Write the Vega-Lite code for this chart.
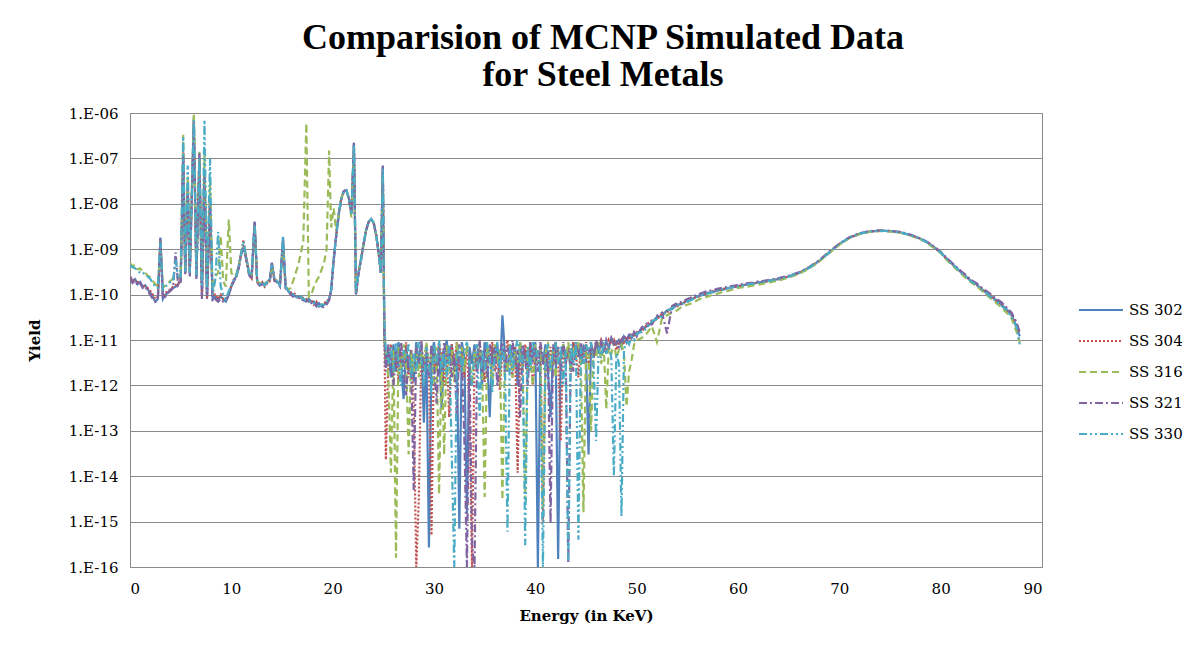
{
  "$schema": "https://vega.github.io/schema/vega-lite/v6.json",
  "autosize": {"type": "none"},
  "padding": {"left": 130, "top": 113, "right": 157, "bottom": 78},
  "width": 912,
  "height": 454,
  "background": "white",
  "title": {
    "text": ["Comparision of MCNP Simulated Data", "for Steel Metals"],
    "font": "Liberation Serif",
    "fontSize": 36,
    "fontWeight": "bold",
    "lineHeight": 37,
    "color": "black",
    "anchor": "middle",
    "baseline": "bottom",
    "offset": 18,
    "dx": 17,
    "dy": 42
  },
  "data": {
    "values": [
      {"e":0,"SS 302":2.5e-10,"SS 304":2.4e-10,"SS 316":5e-10,"SS 321":2.3e-10,"SS 330":4.5e-10},
      {"e":0.25,"SS 302":2e-10,"SS 304":2.2e-10,"SS 316":4.2e-10,"SS 321":1.8e-10,"SS 330":4e-10},
      {"e":0.5,"SS 302":2.2e-10,"SS 304":2e-10,"SS 316":4.5e-10,"SS 321":2e-10,"SS 330":3.8e-10},
      {"e":0.75,"SS 302":1.7e-10,"SS 304":1.9e-10,"SS 316":3.6e-10,"SS 321":1.6e-10,"SS 330":3.4e-10},
      {"e":1,"SS 302":1.9e-10,"SS 304":1.7e-10,"SS 316":3.8e-10,"SS 321":1.8e-10,"SS 330":3e-10},
      {"e":1.25,"SS 302":1.5e-10,"SS 304":1.6e-10,"SS 316":3.2e-10,"SS 321":1.4e-10,"SS 330":3.1e-10},
      {"e":1.5,"SS 302":1.6e-10,"SS 304":1.5e-10,"SS 316":3e-10,"SS 321":1.5e-10,"SS 330":2.7e-10},
      {"e":1.75,"SS 302":1.3e-10,"SS 304":1.4e-10,"SS 316":2.6e-10,"SS 321":1.2e-10,"SS 330":2.5e-10},
      {"e":2,"SS 302":1.1e-10,"SS 304":1.2e-10,"SS 316":2.4e-10,"SS 321":1e-10,"SS 330":2.2e-10},
      {"e":2.25,"SS 302":9e-11,"SS 304":1e-10,"SS 316":2e-10,"SS 321":8e-11,"SS 330":1.8e-10},
      {"e":2.5,"SS 302":7e-11,"SS 304":8e-11,"SS 316":1.7e-10,"SS 321":7e-11,"SS 330":1.5e-10},
      {"e":2.75,"SS 302":8e-11,"SS 304":9e-11,"SS 316":1.5e-10,"SS 321":7.5e-11,"SS 330":1.4e-10},
      {"e":3,"SS 302":1.8e-9,"SS 304":1.6e-9,"SS 316":1.2e-9,"SS 321":1.7e-9,"SS 330":1.5e-9},
      {"e":3.25,"SS 302":8e-11,"SS 304":9e-11,"SS 316":1.4e-10,"SS 321":8e-11,"SS 330":1.3e-10},
      {"e":3.5,"SS 302":1e-10,"SS 304":1.1e-10,"SS 316":1.6e-10,"SS 321":9e-11,"SS 330":1.5e-10},
      {"e":3.75,"SS 302":1.1e-10,"SS 304":1.2e-10,"SS 316":1.8e-10,"SS 321":1.1e-10,"SS 330":1.7e-10},
      {"e":4,"SS 302":1.3e-10,"SS 304":1.3e-10,"SS 316":2e-10,"SS 321":1.2e-10,"SS 330":1.9e-10},
      {"e":4.25,"SS 302":1.4e-10,"SS 304":1.5e-10,"SS 316":2.3e-10,"SS 321":1.4e-10,"SS 330":2e-10},
      {"e":4.5,"SS 302":1.5e-10,"SS 304":1.6e-10,"SS 316":2.6e-10,"SS 321":8.5e-10,"SS 330":6e-10},
      {"e":4.75,"SS 302":1.7e-10,"SS 304":1.8e-10,"SS 316":2.4e-10,"SS 321":1.6e-10,"SS 330":2.3e-10},
      {"e":5,"SS 302":2e-10,"SS 304":2e-10,"SS 316":2.6e-10,"SS 321":1.9e-10,"SS 330":2.5e-10},
      {"e":5.25,"SS 302":1e-7,"SS 304":1.5e-7,"SS 316":3.3e-7,"SS 321":1.2e-7,"SS 330":3e-7},
      {"e":5.45,"SS 302":3e-10,"SS 304":3e-10,"SS 316":3.5e-10,"SS 321":2.8e-10,"SS 330":3.2e-10},
      {"e":5.7,"SS 302":2e-8,"SS 304":3e-8,"SS 316":4e-8,"SS 321":2e-8,"SS 330":7e-8},
      {"e":5.9,"SS 302":3e-10,"SS 304":2.8e-10,"SS 316":3.5e-10,"SS 321":2.5e-10,"SS 330":3e-10},
      {"e":6.3,"SS 302":8e-7,"SS 304":7e-7,"SS 316":1e-6,"SS 321":6e-7,"SS 330":7e-7},
      {"e":6.55,"SS 302":2.5e-10,"SS 304":2.4e-10,"SS 316":3e-10,"SS 321":2.2e-10,"SS 330":2.6e-10},
      {"e":6.85,"SS 302":1e-7,"SS 304":1.2e-7,"SS 316":1.4e-7,"SS 321":1.3e-7,"SS 330":1e-7},
      {"e":7.1,"SS 302":1e-10,"SS 304":9e-11,"SS 316":2e-10,"SS 321":8e-11,"SS 330":1.5e-10},
      {"e":7.35,"SS 302":5e-8,"SS 304":5e-8,"SS 316":1.2e-7,"SS 321":4e-8,"SS 330":7e-7},
      {"e":7.6,"SS 302":9e-11,"SS 304":8e-11,"SS 316":1.5e-10,"SS 321":8e-11,"SS 330":1.2e-10},
      {"e":7.9,"SS 302":1e-8,"SS 304":1.2e-8,"SS 316":3e-8,"SS 321":1e-8,"SS 330":1e-7},
      {"e":8.15,"SS 302":8e-11,"SS 304":9e-11,"SS 316":1e-10,"SS 321":7e-11,"SS 330":1e-10},
      {"e":8.4,"SS 302":9e-11,"SS 304":1e-10,"SS 316":2.5e-10,"SS 321":8e-11,"SS 330":2e-10},
      {"e":8.7,"SS 302":8e-11,"SS 304":8e-11,"SS 316":3e-10,"SS 321":7e-11,"SS 330":2.4e-9},
      {"e":8.95,"SS 302":9e-11,"SS 304":1e-10,"SS 316":2e-9,"SS 321":8e-11,"SS 330":1.5e-10},
      {"e":9.2,"SS 302":8e-11,"SS 304":8e-11,"SS 316":2e-10,"SS 321":7e-11,"SS 330":1e-10},
      {"e":9.45,"SS 302":7e-11,"SS 304":8e-11,"SS 316":1.5e-10,"SS 321":7e-11,"SS 330":8e-11},
      {"e":9.75,"SS 302":1e-10,"SS 304":1e-10,"SS 316":4.5e-9,"SS 321":1e-10,"SS 330":1.2e-10},
      {"e":10,"SS 302":1.5e-10,"SS 304":1.6e-10,"SS 316":3e-10,"SS 321":1.5e-10,"SS 330":1.6e-10},
      {"e":10.25,"SS 302":2e-10,"SS 304":2.2e-10,"SS 316":2.5e-10,"SS 321":2e-10,"SS 330":2.1e-10},
      {"e":10.5,"SS 302":2.6e-10,"SS 304":2.5e-10,"SS 316":2.8e-10,"SS 321":2.4e-10,"SS 330":2.6e-10},
      {"e":10.75,"SS 302":4.5e-10,"SS 304":4.2e-10,"SS 316":4.5e-10,"SS 321":4e-10,"SS 330":4.5e-10},
      {"e":11,"SS 302":9e-10,"SS 304":8.5e-10,"SS 316":9e-10,"SS 321":8e-10,"SS 330":8.5e-10},
      {"e":11.2,"SS 302":1.1e-9,"SS 304":1.6e-9,"SS 316":1.2e-9,"SS 321":1.1e-9,"SS 330":1.5e-9},
      {"e":11.5,"SS 302":6e-10,"SS 304":5.5e-10,"SS 316":6e-10,"SS 321":5.5e-10,"SS 330":6e-10},
      {"e":11.75,"SS 302":3e-10,"SS 304":2.8e-10,"SS 316":3e-10,"SS 321":2.7e-10,"SS 330":3e-10},
      {"e":12,"SS 302":2.5e-10,"SS 304":2.3e-10,"SS 316":2.4e-10,"SS 321":2.2e-10,"SS 330":2.6e-10},
      {"e":12.3,"SS 302":4e-9,"SS 304":3.5e-9,"SS 316":3e-9,"SS 321":4e-9,"SS 330":3.5e-9},
      {"e":12.55,"SS 302":2e-10,"SS 304":1.8e-10,"SS 316":2e-10,"SS 321":1.8e-10,"SS 330":2e-10},
      {"e":12.8,"SS 302":1.6e-10,"SS 304":1.7e-10,"SS 316":1.8e-10,"SS 321":1.6e-10,"SS 330":1.7e-10},
      {"e":13.05,"SS 302":1.8e-10,"SS 304":1.9e-10,"SS 316":2e-10,"SS 321":1.7e-10,"SS 330":1.9e-10},
      {"e":13.3,"SS 302":1.6e-10,"SS 304":1.5e-10,"SS 316":1.7e-10,"SS 321":1.6e-10,"SS 330":1.6e-10},
      {"e":13.55,"SS 302":1.9e-10,"SS 304":1.8e-10,"SS 316":1.9e-10,"SS 321":1.8e-10,"SS 330":2e-10},
      {"e":13.8,"SS 302":2.2e-10,"SS 304":2e-10,"SS 316":2.1e-10,"SS 321":2e-10,"SS 330":2.2e-10},
      {"e":14,"SS 302":5e-10,"SS 304":4.5e-10,"SS 316":4e-10,"SS 321":5e-10,"SS 330":4.5e-10},
      {"e":14.25,"SS 302":2.2e-10,"SS 304":2.1e-10,"SS 316":2.2e-10,"SS 321":2e-10,"SS 330":2.3e-10},
      {"e":14.5,"SS 302":2e-10,"SS 304":1.9e-10,"SS 316":2e-10,"SS 321":1.9e-10,"SS 330":2e-10},
      {"e":14.8,"SS 302":1.6e-10,"SS 304":1.7e-10,"SS 316":1.7e-10,"SS 321":1.5e-10,"SS 330":1.6e-10},
      {"e":15.1,"SS 302":1.8e-9,"SS 304":1.5e-9,"SS 316":1.2e-9,"SS 321":1.6e-9,"SS 330":1.9e-9},
      {"e":15.35,"SS 302":1.5e-10,"SS 304":1.4e-10,"SS 316":1.5e-10,"SS 321":1.4e-10,"SS 330":1.5e-10},
      {"e":15.6,"SS 302":1.2e-10,"SS 304":1.3e-10,"SS 316":1.3e-10,"SS 321":1.2e-10,"SS 330":1.2e-10},
      {"e":15.85,"SS 302":1.1e-10,"SS 304":1.1e-10,"SS 316":1.4e-10,"SS 321":1e-10,"SS 330":1.1e-10},
      {"e":16.1,"SS 302":1e-10,"SS 304":1.1e-10,"SS 316":2e-10,"SS 321":9e-11,"SS 330":1e-10},
      {"e":16.35,"SS 302":9e-11,"SS 304":1e-10,"SS 316":3e-10,"SS 321":9e-11,"SS 330":1e-10},
      {"e":16.6,"SS 302":9e-11,"SS 304":8e-11,"SS 316":4.5e-10,"SS 321":8.5e-11,"SS 330":8e-11},
      {"e":16.85,"SS 302":8.5e-11,"SS 304":9e-11,"SS 316":8e-10,"SS 321":8e-11,"SS 330":9e-11},
      {"e":17.1,"SS 302":8e-11,"SS 304":8.5e-11,"SS 316":1.5e-9,"SS 321":7.5e-11,"SS 330":8e-11},
      {"e":17.4,"SS 302":7.5e-11,"SS 304":8e-11,"SS 316":6e-7,"SS 321":7e-11,"SS 330":7.5e-11},
      {"e":17.65,"SS 302":8e-11,"SS 304":7e-11,"SS 316":9e-11,"SS 321":7.5e-11,"SS 330":7e-11},
      {"e":17.9,"SS 302":7e-11,"SS 304":7.5e-11,"SS 316":1e-10,"SS 321":6.5e-11,"SS 330":7e-11},
      {"e":18.15,"SS 302":7e-11,"SS 304":6e-11,"SS 316":1.5e-10,"SS 321":6.5e-11,"SS 330":6.5e-11},
      {"e":18.4,"SS 302":6e-11,"SS 304":7e-11,"SS 316":2e-10,"SS 321":5.5e-11,"SS 330":6e-11},
      {"e":18.65,"SS 302":6.5e-11,"SS 304":5.5e-11,"SS 316":2.5e-10,"SS 321":6e-11,"SS 330":5.5e-11},
      {"e":18.9,"SS 302":5.5e-11,"SS 304":6e-11,"SS 316":3.5e-10,"SS 321":5e-11,"SS 330":6e-11},
      {"e":19.15,"SS 302":6e-11,"SS 304":6.5e-11,"SS 316":5e-10,"SS 321":5.5e-11,"SS 330":6e-11},
      {"e":19.4,"SS 302":6.5e-11,"SS 304":7e-11,"SS 316":1e-9,"SS 321":6e-11,"SS 330":7e-11},
      {"e":19.65,"SS 302":8e-11,"SS 304":8e-11,"SS 316":1.5e-7,"SS 321":7.5e-11,"SS 330":8e-11},
      {"e":19.85,"SS 302":1.2e-10,"SS 304":1.3e-10,"SS 316":3e-9,"SS 321":1.2e-10,"SS 330":1.3e-10},
      {"e":20.1,"SS 302":6e-10,"SS 304":6e-10,"SS 316":8e-9,"SS 321":5.5e-10,"SS 330":6e-10},
      {"e":20.35,"SS 302":2e-9,"SS 304":2e-9,"SS 316":2.5e-9,"SS 321":2e-9,"SS 330":2e-9},
      {"e":20.6,"SS 302":6e-9,"SS 304":6e-9,"SS 316":6e-9,"SS 321":5.5e-9,"SS 330":6e-9},
      {"e":20.85,"SS 302":1.3e-8,"SS 304":1.3e-8,"SS 316":1.3e-8,"SS 321":1.2e-8,"SS 330":1.3e-8},
      {"e":21.1,"SS 302":1.9e-8,"SS 304":1.9e-8,"SS 316":1.9e-8,"SS 321":1.9e-8,"SS 330":1.9e-8},
      {"e":21.35,"SS 302":2e-8,"SS 304":2e-8,"SS 316":2e-8,"SS 321":2e-8,"SS 330":2e-8},
      {"e":21.6,"SS 302":1.3e-8,"SS 304":1.3e-8,"SS 316":1.3e-8,"SS 321":1.3e-8,"SS 330":1.3e-8},
      {"e":21.85,"SS 302":6e-9,"SS 304":6e-9,"SS 316":5e-9,"SS 321":6e-9,"SS 330":6e-9},
      {"e":22.1,"SS 302":2.2e-7,"SS 304":2e-7,"SS 316":1.5e-7,"SS 321":2.2e-7,"SS 330":2e-7},
      {"e":22.3,"SS 302":1e-10,"SS 304":1.1e-10,"SS 316":1e-10,"SS 321":1e-10,"SS 330":1.1e-10},
      {"e":22.55,"SS 302":3e-10,"SS 304":3e-10,"SS 316":3e-10,"SS 321":2.8e-10,"SS 330":3e-10},
      {"e":22.8,"SS 302":6e-10,"SS 304":6e-10,"SS 316":6e-10,"SS 321":6e-10,"SS 330":6e-10},
      {"e":23.05,"SS 302":1.3e-9,"SS 304":1.3e-9,"SS 316":1.3e-9,"SS 321":1.3e-9,"SS 330":1.3e-9},
      {"e":23.3,"SS 302":2.6e-9,"SS 304":2.6e-9,"SS 316":2.6e-9,"SS 321":2.6e-9,"SS 330":2.6e-9},
      {"e":23.55,"SS 302":4e-9,"SS 304":4e-9,"SS 316":4e-9,"SS 321":4e-9,"SS 330":4e-9},
      {"e":23.8,"SS 302":4.6e-9,"SS 304":4.6e-9,"SS 316":4.6e-9,"SS 321":4.6e-9,"SS 330":4.6e-9},
      {"e":24.05,"SS 302":3.8e-9,"SS 304":3.8e-9,"SS 316":3.8e-9,"SS 321":3.8e-9,"SS 330":3.8e-9},
      {"e":24.3,"SS 302":2e-9,"SS 304":2e-9,"SS 316":2e-9,"SS 321":2e-9,"SS 330":2e-9},
      {"e":24.55,"SS 302":8e-10,"SS 304":8e-10,"SS 316":8e-10,"SS 321":8e-10,"SS 330":8e-10},
      {"e":24.75,"SS 302":3e-10,"SS 304":3e-10,"SS 316":3e-10,"SS 321":3e-10,"SS 330":3e-10},
      {"e":24.95,"SS 302":7e-8,"SS 304":6e-8,"SS 316":5e-8,"SS 321":7e-8,"SS 330":6e-8},
      {"e":25.1,"SS 302":1.2e-11,"SS 304":1.5e-11,"SS 316":1.1e-11,"SS 321":1.3e-11,"SS 330":2.5e-11},
      {"e":25.25,"SS 302":3e-12,"SS 304":2.3e-14,"SS 316":5e-12,"SS 321":2e-12,"SS 330":6e-12},
      {"e":25.5,"SS 302":6e-12,"SS 304":4e-12,"SS 316":1.5e-12,"SS 321":8e-12,"SS 330":3e-12},
      {"e":25.75,"SS 302":1.5e-12,"SS 304":8e-12,"SS 316":1.2e-14,"SS 321":3e-12,"SS 330":7e-12},
      {"e":26,"SS 302":8e-12,"SS 304":2e-12,"SS 316":6e-12,"SS 321":1e-12,"SS 330":2e-12},
      {"e":26.25,"SS 302":2e-12,"SS 304":5e-12,"SS 316":1.6e-16,"SS 321":6e-12,"SS 330":9e-12},
      {"e":26.5,"SS 302":9e-12,"SS 304":1.2e-12,"SS 316":7e-12,"SS 321":2.5e-12,"SS 330":3e-12},
      {"e":26.75,"SS 302":3e-12,"SS 304":7e-12,"SS 316":2e-12,"SS 321":9e-12,"SS 330":1e-12},
      {"e":27,"SS 302":5e-13,"SS 304":3e-12,"SS 316":8e-12,"SS 321":2e-12,"SS 330":6e-12},
      {"e":27.25,"SS 302":7e-12,"SS 304":9e-12,"SS 316":3e-12,"SS 321":6e-13,"SS 330":4e-12},
      {"e":27.5,"SS 302":2e-12,"SS 304":1.5e-12,"SS 316":3e-14,"SS 321":5e-12,"SS 330":8e-12},
      {"e":27.75,"SS 302":6e-12,"SS 304":6e-12,"SS 316":5e-12,"SS 321":2e-12,"SS 330":1.5e-12},
      {"e":28,"SS 302":1.2e-12,"SS 304":3e-13,"SS 316":2e-12,"SS 321":5e-15,"SS 330":5e-12},
      {"e":28.25,"SS 302":9e-12,"SS 304":1e-16,"SS 316":7e-12,"SS 321":7e-12,"SS 330":2e-12},
      {"e":28.5,"SS 302":3e-12,"SS 304":3e-15,"SS 316":1.5e-12,"SS 321":3e-12,"SS 330":9e-12},
      {"e":28.75,"SS 302":8e-12,"SS 304":6e-12,"SS 316":6e-12,"SS 321":1e-11,"SS 330":4e-12},
      {"e":29,"SS 302":1.5e-13,"SS 304":2e-12,"SS 316":3e-12,"SS 321":2e-12,"SS 330":1e-12},
      {"e":29.25,"SS 302":6e-12,"SS 304":8e-12,"SS 316":9e-12,"SS 321":5e-12,"SS 330":7e-12},
      {"e":29.5,"SS 302":2.7e-16,"SS 304":3e-12,"SS 316":2e-12,"SS 321":1.5e-12,"SS 330":3e-12},
      {"e":29.75,"SS 302":4e-12,"SS 304":5e-16,"SS 316":6e-12,"SS 321":8e-12,"SS 330":6e-13},
      {"e":30,"SS 302":9e-12,"SS 304":7e-12,"SS 316":1e-12,"SS 321":3e-12,"SS 330":8e-12},
      {"e":30.25,"SS 302":2e-12,"SS 304":2e-12,"SS 316":7e-12,"SS 321":4e-13,"SS 330":3e-12},
      {"e":30.5,"SS 302":7e-12,"SS 304":9e-12,"SS 316":4e-15,"SS 321":6e-12,"SS 330":1e-11},
      {"e":30.75,"SS 302":3e-13,"SS 304":4e-12,"SS 316":5e-12,"SS 321":2e-12,"SS 330":2e-12},
      {"e":31,"SS 302":5e-12,"SS 304":1e-12,"SS 316":3e-14,"SS 321":9e-12,"SS 330":6e-12},
      {"e":31.25,"SS 302":1e-11,"SS 304":6e-12,"SS 316":8e-12,"SS 321":3e-12,"SS 330":1.5e-12},
      {"e":31.5,"SS 302":3e-12,"SS 304":2e-13,"SS 316":2e-12,"SS 321":7e-12,"SS 330":8e-12},
      {"e":31.75,"SS 302":8e-12,"SS 304":8e-12,"SS 316":6e-12,"SS 321":1.5e-12,"SS 330":3e-14},
      {"e":32,"SS 302":2e-12,"SS 304":3e-12,"SS 316":1.2e-12,"SS 321":5e-12,"SS 330":1e-16},
      {"e":32.25,"SS 302":6e-12,"SS 304":9e-12,"SS 316":9e-12,"SS 321":2e-13,"SS 330":4e-12},
      {"e":32.5,"SS 302":7e-16,"SS 304":2e-12,"SS 316":3e-12,"SS 321":8e-12,"SS 330":7e-12},
      {"e":32.75,"SS 302":9e-12,"SS 304":5e-12,"SS 316":7e-12,"SS 321":3e-12,"SS 330":2e-12},
      {"e":33,"SS 302":4e-12,"SS 304":1.5e-12,"SS 316":2e-12,"SS 321":6e-14,"SS 330":6e-12},
      {"e":33.25,"SS 302":1.5e-15,"SS 304":7e-12,"SS 316":8e-12,"SS 321":1e-16,"SS 330":9e-12},
      {"e":33.5,"SS 302":7e-12,"SS 304":3e-13,"SS 316":4e-12,"SS 321":5e-12,"SS 330":3e-12},
      {"e":33.75,"SS 302":3e-12,"SS 304":1e-16,"SS 316":1e-12,"SS 321":3e-16,"SS 330":1e-12},
      {"e":34,"SS 302":8e-12,"SS 304":6e-12,"SS 316":6e-12,"SS 321":1e-16,"SS 330":5e-12},
      {"e":34.25,"SS 302":2e-12,"SS 304":2e-12,"SS 316":3e-12,"SS 321":4e-12,"SS 330":8e-12},
      {"e":34.5,"SS 302":6e-12,"SS 304":8e-12,"SS 316":9e-12,"SS 321":1e-11,"SS 330":2e-13},
      {"e":34.75,"SS 302":1e-12,"SS 304":4e-12,"SS 316":2e-12,"SS 321":2e-12,"SS 330":6e-12},
      {"e":35,"SS 302":9e-12,"SS 304":1.2e-12,"SS 316":3.5e-15,"SS 321":6e-12,"SS 330":2e-12},
      {"e":35.25,"SS 302":4e-12,"SS 304":7e-12,"SS 316":7e-12,"SS 321":1.5e-12,"SS 330":9e-12},
      {"e":35.5,"SS 302":2e-13,"SS 304":3e-12,"SS 316":4e-12,"SS 321":8e-12,"SS 330":4e-12},
      {"e":35.75,"SS 302":7e-12,"SS 304":9e-12,"SS 316":1e-12,"SS 321":3e-12,"SS 330":7e-13},
      {"e":36,"SS 302":3e-12,"SS 304":2e-12,"SS 316":8e-12,"SS 321":7e-12,"SS 330":5e-12},
      {"e":36.25,"SS 302":8e-12,"SS 304":5e-12,"SS 316":3e-12,"SS 321":1e-12,"SS 330":9e-12},
      {"e":36.5,"SS 302":1.5e-12,"SS 304":8e-13,"SS 316":6e-12,"SS 321":5e-12,"SS 330":2e-12},
      {"e":36.75,"SS 302":3.5e-11,"SS 304":6e-12,"SS 316":3e-15,"SS 321":9e-12,"SS 330":7e-12},
      {"e":37,"SS 302":5e-12,"SS 304":3e-12,"SS 316":5e-12,"SS 321":2e-12,"SS 330":3e-12},
      {"e":37.25,"SS 302":2e-12,"SS 304":1e-11,"SS 316":2e-12,"SS 321":7e-12,"SS 330":6e-16},
      {"e":37.5,"SS 302":8e-12,"SS 304":4e-12,"SS 316":8e-12,"SS 321":4e-12,"SS 330":8e-12},
      {"e":37.75,"SS 302":4e-12,"SS 304":1.5e-12,"SS 316":1.5e-12,"SS 321":1e-11,"SS 330":2e-12},
      {"e":38,"SS 302":7e-12,"SS 304":7e-12,"SS 316":6e-12,"SS 321":3e-12,"SS 330":6e-12},
      {"e":38.25,"SS 302":1e-12,"SS 304":1.2e-14,"SS 316":3e-12,"SS 321":6e-12,"SS 330":1e-11},
      {"e":38.5,"SS 302":9e-12,"SS 304":5e-12,"SS 316":9e-12,"SS 321":2e-13,"SS 330":3e-12},
      {"e":38.75,"SS 302":3e-12,"SS 304":2e-12,"SS 316":2e-12,"SS 321":8e-12,"SS 330":5e-12},
      {"e":39,"SS 302":6e-12,"SS 304":8e-12,"SS 316":3e-15,"SS 321":4e-12,"SS 330":3e-16},
      {"e":39.25,"SS 302":2e-12,"SS 304":3e-12,"SS 316":7e-12,"SS 321":1e-12,"SS 330":7e-12},
      {"e":39.5,"SS 302":8e-12,"SS 304":9e-12,"SS 316":4e-12,"SS 321":9e-12,"SS 330":2e-12},
      {"e":39.75,"SS 302":5e-12,"SS 304":1e-12,"SS 316":1e-12,"SS 321":3e-12,"SS 330":9e-12},
      {"e":40,"SS 302":9e-12,"SS 304":6e-12,"SS 316":8e-12,"SS 321":7e-12,"SS 330":4e-12},
      {"e":40.25,"SS 302":1e-16,"SS 304":4e-12,"SS 316":3e-12,"SS 321":2e-12,"SS 330":6e-12},
      {"e":40.5,"SS 302":7e-12,"SS 304":8e-12,"SS 316":6e-12,"SS 321":9e-12,"SS 330":1.5e-12},
      {"e":40.75,"SS 302":3e-12,"SS 304":1e-15,"SS 316":2e-15,"SS 321":4e-12,"SS 330":1e-16},
      {"e":41,"SS 302":8e-12,"SS 304":5e-12,"SS 316":5e-12,"SS 321":1.5e-12,"SS 330":5e-12},
      {"e":41.25,"SS 302":2e-12,"SS 304":2e-12,"SS 316":9e-12,"SS 321":6e-12,"SS 330":8e-12},
      {"e":41.5,"SS 302":2e-13,"SS 304":7e-12,"SS 316":2e-12,"SS 321":9e-16,"SS 330":2e-12},
      {"e":41.75,"SS 302":6e-12,"SS 304":3e-12,"SS 316":7e-12,"SS 321":8e-12,"SS 330":6e-12},
      {"e":42,"SS 302":9e-12,"SS 304":9e-12,"SS 316":1.5e-12,"SS 321":3e-12,"SS 330":9e-12},
      {"e":42.25,"SS 302":1.5e-16,"SS 304":4e-12,"SS 316":6e-12,"SS 321":7e-12,"SS 330":3e-12},
      {"e":42.5,"SS 302":5e-12,"SS 304":6e-14,"SS 316":3e-12,"SS 321":2e-12,"SS 330":7e-12},
      {"e":42.75,"SS 302":8e-12,"SS 304":8e-12,"SS 316":8e-12,"SS 321":9e-12,"SS 330":1e-12},
      {"e":43,"SS 302":3e-12,"SS 304":3e-12,"SS 316":4e-12,"SS 321":4e-12,"SS 330":6e-12},
      {"e":43.25,"SS 302":7e-12,"SS 304":7e-12,"SS 316":9e-12,"SS 321":1.2e-16,"SS 330":1.3e-16},
      {"e":43.5,"SS 302":2e-12,"SS 304":2e-12,"SS 316":2e-12,"SS 321":6e-12,"SS 330":8e-12},
      {"e":43.75,"SS 302":9e-12,"SS 304":9e-12,"SS 316":7e-12,"SS 321":2e-12,"SS 330":3e-12},
      {"e":44,"SS 302":4e-12,"SS 304":5e-12,"SS 316":4e-12,"SS 321":8e-12,"SS 330":9e-12},
      {"e":44.25,"SS 302":8e-12,"SS 304":1.5e-12,"SS 316":9e-12,"SS 321":4e-12,"SS 330":4e-16},
      {"e":44.5,"SS 302":3e-12,"SS 304":8e-12,"SS 316":3e-12,"SS 321":9e-12,"SS 330":7e-12},
      {"e":44.75,"SS 302":7e-12,"SS 304":4e-12,"SS 316":1.6e-15,"SS 321":3e-12,"SS 330":3e-12},
      {"e":45,"SS 302":5e-12,"SS 304":9e-12,"SS 316":8e-12,"SS 321":8e-12,"SS 330":8e-12},
      {"e":45.25,"SS 302":3e-14,"SS 304":3e-12,"SS 316":5e-12,"SS 321":5e-12,"SS 330":5e-12},
      {"e":45.5,"SS 302":8e-12,"SS 304":7e-12,"SS 316":1e-13,"SS 321":9e-12,"SS 330":9e-12},
      {"e":45.75,"SS 302":4e-12,"SS 304":5e-12,"SS 316":7e-12,"SS 321":4e-12,"SS 330":3e-12},
      {"e":46,"SS 302":9e-12,"SS 304":9e-12,"SS 316":4e-12,"SS 321":1e-11,"SS 330":6e-14},
      {"e":46.25,"SS 302":5e-12,"SS 304":6e-12,"SS 316":9e-12,"SS 321":6e-12,"SS 330":7e-12},
      {"e":46.5,"SS 302":1e-11,"SS 304":1e-11,"SS 316":3e-12,"SS 321":9e-12,"SS 330":4e-12},
      {"e":46.75,"SS 302":6e-12,"SS 304":7e-12,"SS 316":8e-12,"SS 321":5e-12,"SS 330":9e-12},
      {"e":47,"SS 302":9e-12,"SS 304":5e-12,"SS 316":3e-13,"SS 321":1e-11,"SS 330":5e-12},
      {"e":47.25,"SS 302":7e-12,"SS 304":1e-11,"SS 316":7e-12,"SS 321":7e-12,"SS 330":8e-12},
      {"e":47.5,"SS 302":1.1e-11,"SS 304":8e-12,"SS 316":5e-12,"SS 321":1.1e-11,"SS 330":4e-12},
      {"e":47.75,"SS 302":8e-12,"SS 304":1e-11,"SS 316":9e-12,"SS 321":8e-12,"SS 330":1e-14},
      {"e":48,"SS 302":8e-12,"SS 304":6e-12,"SS 316":4e-12,"SS 321":9e-12,"SS 330":5e-12},
      {"e":48.25,"SS 302":1e-11,"SS 304":9e-12,"SS 316":6e-12,"SS 321":7e-12,"SS 330":3e-12},
      {"e":48.5,"SS 302":7e-12,"SS 304":1.1e-11,"SS 316":8e-12,"SS 321":1e-11,"SS 330":1.3e-15},
      {"e":48.75,"SS 302":1.2e-11,"SS 304":8e-12,"SS 316":5e-12,"SS 321":1.3e-11,"SS 330":6e-12},
      {"e":49,"SS 302":1e-11,"SS 304":1.2e-11,"SS 316":3.4e-13,"SS 321":9e-12,"SS 330":1e-11},
      {"e":49.25,"SS 302":1.3e-11,"SS 304":1e-11,"SS 316":2e-12,"SS 321":1.4e-11,"SS 330":8e-12},
      {"e":49.5,"SS 302":1.1e-11,"SS 304":1.3e-11,"SS 316":3.6e-12,"SS 321":1.1e-11,"SS 330":1.2e-11},
      {"e":49.75,"SS 302":1.4e-11,"SS 304":1.2e-11,"SS 316":8e-12,"SS 321":1.5e-11,"SS 330":1e-11},
      {"e":50,"SS 302":1.3e-11,"SS 304":1.5e-11,"SS 316":1e-11,"SS 321":1.2e-11,"SS 330":1.4e-11},
      {"e":50.5,"SS 302":1.7e-11,"SS 304":1.5e-11,"SS 316":1.1e-11,"SS 321":1.9e-11,"SS 330":1.5e-11},
      {"e":51,"SS 302":2e-11,"SS 304":2.2e-11,"SS 316":1.4e-11,"SS 321":2.3e-11,"SS 330":1.8e-11},
      {"e":51.5,"SS 302":2.4e-11,"SS 304":2.7e-11,"SS 316":2e-11,"SS 321":2.2e-11,"SS 330":2.6e-11},
      {"e":52,"SS 302":3.2e-11,"SS 304":2.8e-11,"SS 316":9e-12,"SS 321":3.4e-11,"SS 330":2.9e-11},
      {"e":52.5,"SS 302":3.4e-11,"SS 304":3.8e-11,"SS 316":3e-11,"SS 321":4e-11,"SS 330":3.3e-11},
      {"e":53,"SS 302":4.5e-11,"SS 304":4e-11,"SS 316":3.5e-11,"SS 321":1.4e-11,"SS 330":4.4e-11},
      {"e":53.5,"SS 302":4.8e-11,"SS 304":5.3e-11,"SS 316":4e-11,"SS 321":5.6e-11,"SS 330":5e-11},
      {"e":54,"SS 302":6e-11,"SS 304":5.5e-11,"SS 316":4.5e-11,"SS 321":6.5e-11,"SS 330":5.8e-11},
      {"e":54.5,"SS 302":6.2e-11,"SS 304":6.8e-11,"SS 316":5.5e-11,"SS 321":7e-11,"SS 330":6.4e-11},
      {"e":55,"SS 302":7.5e-11,"SS 304":6.8e-11,"SS 316":6e-11,"SS 321":8e-11,"SS 330":7e-11},
      {"e":55.5,"SS 302":8e-11,"SS 304":8.5e-11,"SS 316":6.5e-11,"SS 321":8.8e-11,"SS 330":7.8e-11},
      {"e":56,"SS 302":9.2e-11,"SS 304":8.6e-11,"SS 316":7.5e-11,"SS 321":1e-10,"SS 330":9e-11},
      {"e":56.5,"SS 302":9.8e-11,"SS 304":1.05e-10,"SS 316":8.5e-11,"SS 321":1.1e-10,"SS 330":1e-10},
      {"e":57,"SS 302":1.1e-10,"SS 304":1.05e-10,"SS 316":9e-11,"SS 321":1.2e-10,"SS 330":1.05e-10},
      {"e":57.5,"SS 302":1.12e-10,"SS 304":1.2e-10,"SS 316":1e-10,"SS 321":1.25e-10,"SS 330":1.15e-10},
      {"e":58,"SS 302":1.25e-10,"SS 304":1.2e-10,"SS 316":1.05e-10,"SS 321":1.35e-10,"SS 330":1.2e-10},
      {"e":58.5,"SS 302":1.28e-10,"SS 304":1.35e-10,"SS 316":1.15e-10,"SS 321":1.4e-10,"SS 330":1.3e-10},
      {"e":59,"SS 302":1.4e-10,"SS 304":1.35e-10,"SS 316":1.2e-10,"SS 321":1.5e-10,"SS 330":1.38e-10},
      {"e":59.5,"SS 302":1.45e-10,"SS 304":1.5e-10,"SS 316":1.3e-10,"SS 321":1.55e-10,"SS 330":1.45e-10},
      {"e":60,"SS 302":1.55e-10,"SS 304":1.5e-10,"SS 316":1.4e-10,"SS 321":1.65e-10,"SS 330":1.52e-10},
      {"e":60.5,"SS 302":1.6e-10,"SS 304":1.65e-10,"SS 316":1.45e-10,"SS 321":1.7e-10,"SS 330":1.6e-10},
      {"e":61,"SS 302":1.7e-10,"SS 304":1.65e-10,"SS 316":1.5e-10,"SS 321":1.8e-10,"SS 330":1.68e-10},
      {"e":61.5,"SS 302":1.75e-10,"SS 304":1.8e-10,"SS 316":1.6e-10,"SS 321":1.85e-10,"SS 330":1.75e-10},
      {"e":62,"SS 302":1.85e-10,"SS 304":1.8e-10,"SS 316":1.65e-10,"SS 321":1.95e-10,"SS 330":1.82e-10},
      {"e":62.5,"SS 302":1.9e-10,"SS 304":1.95e-10,"SS 316":1.75e-10,"SS 321":2e-10,"SS 330":1.9e-10},
      {"e":63,"SS 302":2e-10,"SS 304":1.95e-10,"SS 316":1.8e-10,"SS 321":2.1e-10,"SS 330":2e-10},
      {"e":63.5,"SS 302":2.1e-10,"SS 304":2.15e-10,"SS 316":1.95e-10,"SS 321":2.2e-10,"SS 330":2.1e-10},
      {"e":64,"SS 302":2.2e-10,"SS 304":2.15e-10,"SS 316":2e-10,"SS 321":2.3e-10,"SS 330":2.2e-10},
      {"e":64.5,"SS 302":2.35e-10,"SS 304":2.4e-10,"SS 316":2.2e-10,"SS 321":2.45e-10,"SS 330":2.35e-10},
      {"e":65,"SS 302":2.5e-10,"SS 304":2.45e-10,"SS 316":2.35e-10,"SS 321":2.6e-10,"SS 330":2.5e-10},
      {"e":65.5,"SS 302":2.75e-10,"SS 304":2.8e-10,"SS 316":2.6e-10,"SS 321":2.85e-10,"SS 330":2.75e-10},
      {"e":66,"SS 302":3e-10,"SS 304":2.95e-10,"SS 316":2.85e-10,"SS 321":3.1e-10,"SS 330":3e-10},
      {"e":67,"SS 302":3.9e-10,"SS 304":3.95e-10,"SS 316":3.7e-10,"SS 321":4e-10,"SS 330":3.85e-10},
      {"e":68,"SS 302":5.5e-10,"SS 304":5.4e-10,"SS 316":5.3e-10,"SS 321":5.7e-10,"SS 330":5.5e-10},
      {"e":69,"SS 302":8.5e-10,"SS 304":8.6e-10,"SS 316":8.2e-10,"SS 321":8.8e-10,"SS 330":8.4e-10},
      {"e":70,"SS 302":1.3e-9,"SS 304":1.3e-9,"SS 316":1.25e-9,"SS 321":1.33e-9,"SS 330":1.3e-9},
      {"e":71,"SS 302":1.8e-9,"SS 304":1.78e-9,"SS 316":1.75e-9,"SS 321":1.83e-9,"SS 330":1.8e-9},
      {"e":72,"SS 302":2.2e-9,"SS 304":2.2e-9,"SS 316":2.15e-9,"SS 321":2.25e-9,"SS 330":2.2e-9},
      {"e":73,"SS 302":2.45e-9,"SS 304":2.44e-9,"SS 316":2.4e-9,"SS 321":2.5e-9,"SS 330":2.45e-9},
      {"e":74,"SS 302":2.55e-9,"SS 304":2.55e-9,"SS 316":2.5e-9,"SS 321":2.6e-9,"SS 330":2.55e-9},
      {"e":75,"SS 302":2.5e-9,"SS 304":2.5e-9,"SS 316":2.45e-9,"SS 321":2.55e-9,"SS 330":2.5e-9},
      {"e":76,"SS 302":2.35e-9,"SS 304":2.33e-9,"SS 316":2.3e-9,"SS 321":2.4e-9,"SS 330":2.35e-9},
      {"e":77,"SS 302":2.05e-9,"SS 304":2.05e-9,"SS 316":2e-9,"SS 321":2.1e-9,"SS 330":2.05e-9},
      {"e":78,"SS 302":1.7e-9,"SS 304":1.68e-9,"SS 316":1.65e-9,"SS 321":1.74e-9,"SS 330":1.7e-9},
      {"e":78.5,"SS 302":1.5e-9,"SS 304":1.5e-9,"SS 316":1.45e-9,"SS 321":1.52e-9,"SS 330":1.48e-9},
      {"e":79,"SS 302":1.25e-9,"SS 304":1.27e-9,"SS 316":1.2e-9,"SS 321":1.3e-9,"SS 330":1.25e-9},
      {"e":79.5,"SS 302":1.05e-9,"SS 304":1.02e-9,"SS 316":1e-9,"SS 321":1.08e-9,"SS 330":1.04e-9},
      {"e":80,"SS 302":8.5e-10,"SS 304":8.7e-10,"SS 316":8.2e-10,"SS 321":8.8e-10,"SS 330":8.5e-10},
      {"e":80.5,"SS 302":6.5e-10,"SS 304":6.3e-10,"SS 316":6.1e-10,"SS 321":6.8e-10,"SS 330":6.5e-10},
      {"e":81,"SS 302":5e-10,"SS 304":5.2e-10,"SS 316":4.7e-10,"SS 321":5.3e-10,"SS 330":4.9e-10},
      {"e":81.5,"SS 302":4e-10,"SS 304":3.8e-10,"SS 316":3.7e-10,"SS 321":4.2e-10,"SS 330":4e-10},
      {"e":82,"SS 302":3.1e-10,"SS 304":3.3e-10,"SS 316":2.9e-10,"SS 321":3.3e-10,"SS 330":3e-10},
      {"e":82.5,"SS 302":2.5e-10,"SS 304":2.4e-10,"SS 316":2.3e-10,"SS 321":2.7e-10,"SS 330":2.5e-10},
      {"e":83,"SS 302":2e-10,"SS 304":2.1e-10,"SS 316":1.85e-10,"SS 321":2.1e-10,"SS 330":1.95e-10},
      {"e":83.5,"SS 302":1.7e-10,"SS 304":1.6e-10,"SS 316":1.55e-10,"SS 321":1.8e-10,"SS 330":1.65e-10},
      {"e":84,"SS 302":1.35e-10,"SS 304":1.4e-10,"SS 316":1.25e-10,"SS 321":1.45e-10,"SS 330":1.3e-10},
      {"e":84.5,"SS 302":1.1e-10,"SS 304":1.05e-10,"SS 316":1e-10,"SS 321":1.2e-10,"SS 330":1.1e-10},
      {"e":85,"SS 302":9e-11,"SS 304":9.5e-11,"SS 316":8e-11,"SS 321":1e-10,"SS 330":8.5e-11},
      {"e":85.5,"SS 302":7.5e-11,"SS 304":7e-11,"SS 316":6.5e-11,"SS 321":8e-11,"SS 330":7.2e-11},
      {"e":86,"SS 302":6e-11,"SS 304":6.4e-11,"SS 316":5.2e-11,"SS 321":6.8e-11,"SS 330":5.6e-11},
      {"e":86.5,"SS 302":4.8e-11,"SS 304":4.4e-11,"SS 316":4e-11,"SS 321":5.2e-11,"SS 330":4.6e-11},
      {"e":87,"SS 302":3.5e-11,"SS 304":3.8e-11,"SS 316":3e-11,"SS 321":4e-11,"SS 330":3.2e-11},
      {"e":87.5,"SS 302":2e-11,"SS 304":1.8e-11,"SS 316":1.5e-11,"SS 321":2.4e-11,"SS 330":1.9e-11},
      {"e":87.8,"SS 302":1.2e-11,"SS 304":1.4e-11,"SS 316":9e-12,"SS 321":1.5e-11,"SS 330":8e-12}
    ]
  },
  "transform": [
    {"fold": ["SS 302", "SS 304", "SS 316", "SS 321", "SS 330"], "as": ["series", "yield"]}
  ],
  "mark": {"type": "line", "strokeWidth": 2.2, "clip": true, "interpolate": "linear"},
  "encoding": {
    "x": {
      "field": "e",
      "type": "quantitative",
      "scale": {"domain": [0, 90], "nice": false},
      "axis": {
        "title": "Energy (in KeV)",
        "values": [0, 10, 20, 30, 40, 50, 60, 70, 80, 90],
        "grid": false,
        "ticks": false,
        "domain": false,
        "labelPadding": 14,
        "labelFont": "DejaVu Serif",
        "labelFontSize": 15,
        "labelColor": "black",
        "titleFont": "DejaVu Serif",
        "titleFontSize": 15,
        "titleFontWeight": "bold",
        "titleColor": "black",
        "titlePadding": 12
      }
    },
    "y": {
      "field": "yield",
      "type": "quantitative",
      "scale": {"type": "log", "domain": [1e-16, 1e-6], "nice": false},
      "axis": {
        "title": "Yield",
        "values": [1e-16, 1e-15, 1e-14, 1e-13, 1e-12, 1e-11, 1e-10, 1e-9, 1e-8, 1e-7, 1e-6],
        "labelExpr": "'1.E-' + (round(-log(datum.value)/LN10) < 10 ? '0' : '') + round(-log(datum.value)/LN10)",
        "grid": true,
        "gridColor": "#8a8a8a",
        "gridWidth": 1,
        "ticks": false,
        "domainColor": "#8a8a8a",
        "labelPadding": 12,
        "labelFont": "DejaVu Serif",
        "labelFontSize": 15,
        "labelColor": "black",
        "titleFont": "DejaVu Serif",
        "titleFontSize": 15,
        "titleFontWeight": "bold",
        "titleColor": "black",
        "titlePadding": 26
      }
    },
    "color": {
      "field": "series",
      "type": "nominal",
      "scale": {
        "domain": ["SS 302", "SS 304", "SS 316", "SS 321", "SS 330"],
        "range": ["#4F81BD", "#C0504D", "#9BBB59", "#8064A2", "#4BACC6"]
      },
      "legend": {
        "title": null,
        "orient": "none",
        "legendX": 948,
        "legendY": 174,
        "symbolType": "stroke",
        "symbolSize": 1936,
        "symbolStrokeWidth": 2,
        "labelFont": "DejaVu Serif",
        "labelFontSize": 15,
        "labelColor": "black",
        "labelOffset": 5,
        "rowPadding": 0,
        "padding": 0
      }
    },
    "strokeDash": {
      "field": "series",
      "type": "nominal",
      "scale": {
        "domain": ["SS 302", "SS 304", "SS 316", "SS 321", "SS 330"],
        "range": [[1, 0], [2, 2], [7, 4], [8, 3, 2, 3], [8, 3, 2, 3, 2, 3]]
      },
      "legend": null
    }
  },
  "config": {
    "view": {"stroke": "#8a8a8a", "strokeWidth": 1}
  }
}
